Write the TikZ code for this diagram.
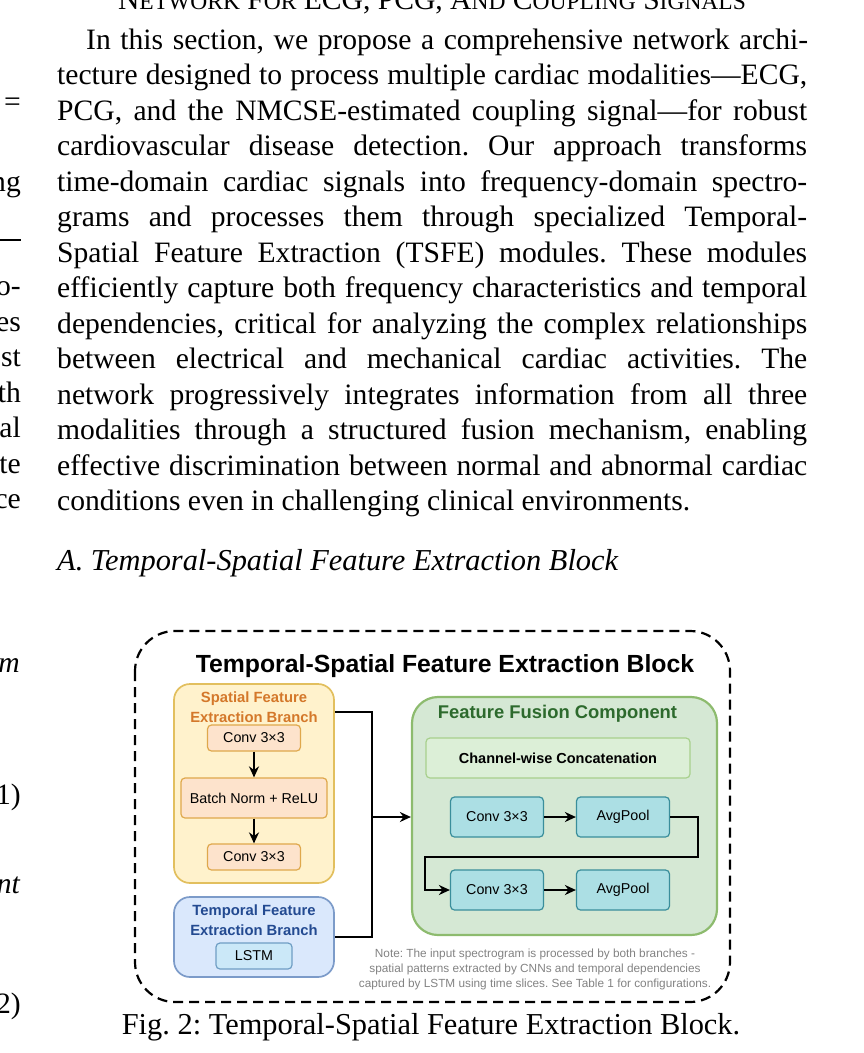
\documentclass[tikz,border=0pt]{standalone}
\usepackage{fontspec}
\setmainfont{Liberation Serif}
\setsansfont{Liberation Sans}
\usepackage{tikz}
\usetikzlibrary{arrows.meta,positioning,calc}
\usepackage{xcolor}
\definecolor{spatfill}{HTML}{FFF2CC}
\definecolor{spatline}{HTML}{E2BF5E}
\definecolor{spattext}{HTML}{D4782A}
\definecolor{peachfill}{HTML}{FDE3CC}
\definecolor{peachline}{HTML}{DFA84C}
\definecolor{tempfill}{HTML}{DAE8FC}
\definecolor{templine}{HTML}{7C9BC9}
\definecolor{temptext}{HTML}{234A91}
\definecolor{lstmfill}{HTML}{CBE8F8}
\definecolor{lstmline}{HTML}{6F9EC4}
\definecolor{fusefill}{HTML}{D5E8D4}
\definecolor{fuseline}{HTML}{8DBB6E}
\definecolor{fusetext}{HTML}{2D6A2D}
\definecolor{catfill}{HTML}{DCEFD7}
\definecolor{catline}{HTML}{A8D08D}
\definecolor{opfill}{HTML}{ACDFE4}
\definecolor{opline}{HTML}{3A8E9B}
\definecolor{notegray}{HTML}{828282}

\newcommand{\bodysize}{\fontsize{29.6}{35.5}\selectfont}
\newcommand{\smc}[1]{{\fontsize{23.5}{23.5}\selectfont #1}}
\frenchspacing

\begin{document}
\begin{tikzpicture}[x=1pt, y=-1pt,
  body/.style={font=\bodysize, inner sep=0pt, anchor=base west},
  margin/.style={font=\bodysize, inner sep=0pt, anchor=base east},
  frame/.style={line width=2.2pt, dash pattern=on 10pt off 6pt, rounded corners=40pt},
  branch/.style={line width=1.7pt, rounded corners=16pt},
  branchtitle/.style={font=\fontsize{14.8}{19.5}\selectfont\sffamily\bfseries, align=center, inner sep=0pt},
  opbox/.style={draw, line width=1.2pt, rounded corners=4pt, font=\fontsize{14.3}{17}\selectfont\sffamily, inner sep=0pt},
  conn/.style={line width=2.3pt},
  tip/.style={-{Stealth[length=11pt,width=10pt]}}]

  \useasboundingbox (0,0) rectangle (864,1053);

  % Section header (cut at the top)
  \node[font=\bodysize, inner sep=0pt, anchor=base] (secthead) at (432,9)
    {N\smc{ETWORK} F\smc{OR} ECG, PCG, A\smc{ND} C\smc{OUPLING} S\smc{IGNALS}};

  % Paragraph
  \node[body] (line1) at (86,49) {\makebox[722pt][s]{In this section, we propose a comprehensive network archi-}};
  \foreach \txt [count=\i from 2] in {
    {tecture designed to process multiple cardiac modalities—ECG,},
    {PCG, and the NMCSE-estimated coupling signal—for robust},
    {cardiovascular disease detection. Our approach transforms},
    {time-domain cardiac signals into frequency-domain spectro-},
    {grams and processes them through specialized Temporal-},
    {Spatial Feature Extraction (TSFE) modules. These modules},
    {efficiently capture both frequency characteristics and temporal},
    {dependencies, critical for analyzing the complex relationships},
    {between electrical and mechanical cardiac activities. The},
    {network progressively integrates information from all three},
    {modalities through a structured fusion mechanism, enabling},
    {effective discrimination between normal and abnormal cardiac}}
    \node[body] (line\i) at (57,{49+(\i-1)*35.5}) {\makebox[750pt][s]{\txt}};
  \node[body] (line14) at (57,510.5) {conditions even in challenging clinical environments.};

  % Subsection heading
  \node[body, font=\fontsize{30.4}{35.5}\selectfont\itshape] (subsec) at (57,570) {A. Temporal-Spatial Feature Extraction Block};

  % Left column remnants
  \node[margin] (lc1) at (21,111) {=};
  \node[margin] (lc2) at (21,191) {ng};
  \draw[line width=1.3pt] (0,240) -- (21,240);
  \foreach \frag [count=\i from 8] in {o-,es,st,th,al,te,ce}
    \node[margin] (lf\i) at (21,{49+(\i-1)*35.5-2}) {\frag};
  \node[margin, font=\bodysize\itshape] (lc3) at (20,672) {m};
  \node[margin] (lc4) at (21,804) {1)};
  \node[margin, font=\bodysize\itshape] (lc5) at (20,893) {nt};
  \node[margin] (lc6) at (21,1013) {2)};

  % Block frame and title
  \draw[frame] (135,631) rectangle (730,1002);
  \node[font=\fontsize{24.8}{28}\selectfont\sffamily\bfseries, inner sep=0pt, anchor=base] (blocktitle) at (445,672)
    {Temporal-Spatial Feature Extraction Block};

  % Spatial branch
  \node[branch, draw=spatline, fill=spatfill, minimum width=160pt, minimum height=199pt] (spatial) at (254,783.5) {};
  \node[branchtitle, text=spattext] (spatialtitle) at (254,707) {Spatial Feature\\Extraction Branch};
  \node[opbox, draw=peachline, fill=peachfill, minimum width=93pt, minimum height=26pt] (convone) at (254,738) {Conv 3×3};
  \node[opbox, draw=peachline, fill=peachfill, minimum width=146pt, minimum height=40pt] (bnrelu) at (254,798) {Batch Norm + ReLU};
  \node[opbox, draw=peachline, fill=peachfill, minimum width=93pt, minimum height=26pt] (convtwo) at (254,857) {Conv 3×3};
  \draw[conn, line width=2pt, tip] (convone) -- (bnrelu);
  \draw[conn, line width=2pt, tip] (bnrelu) -- (convtwo);

  % Temporal branch
  \node[branch, draw=templine, fill=tempfill, minimum width=160pt, minimum height=80pt] (temporal) at (254,937) {};
  \node[branchtitle, text=temptext] (temporaltitle) at (254,920) {Temporal Feature\\Extraction Branch};
  \node[opbox, draw=lstmline, fill=lstmfill, minimum width=76pt, minimum height=26pt] (lstm) at (254,956) {LSTM};

  % Fusion component
  \node[branch, rounded corners=26pt, line width=2.2pt, draw=fuseline, fill=fusefill, minimum width=305pt, minimum height=238pt] (fusion) at (564.5,816) {};
  \node[font=\fontsize{18.4}{21}\selectfont\sffamily\bfseries, text=fusetext, inner sep=0pt, anchor=base] (fusiontitle) at (557.5,718) {Feature Fusion Component};
  \node[opbox, draw=catline, fill=catfill, minimum width=264pt, minimum height=40pt, font=\fontsize{14.5}{17}\selectfont\sffamily\bfseries] (concat) at (558,758) {Channel-wise Concatenation};
  \node[opbox, draw=opline, fill=opfill, minimum width=93pt, minimum height=40pt] (convA) at (497,817) {Conv 3×3};
  \node[opbox, draw=opline, fill=opfill, minimum width=93pt, minimum height=40pt] (poolA) at (623,817) {AvgPool};
  \node[opbox, draw=opline, fill=opfill, minimum width=93pt, minimum height=40pt] (convB) at (497,890) {Conv 3×3};
  \node[opbox, draw=opline, fill=opfill, minimum width=93pt, minimum height=40pt] (poolB) at (623,890) {AvgPool};
  \draw[conn, tip] (convA) -- (poolA);
  \draw[conn, tip] (convB) -- (poolB);
  \draw[conn, tip] (poolA.east) -- ++(28,0) -- ++(0,40) -| ([xshift=-25pt]convB.west) -- (convB.west);

  % Branches into fusion
  \coordinate (join) at (372,817);
  \draw[conn] ([yshift=71.5pt]spatial.east) -| (join);
  \draw[conn] (temporal.east) -| (join);
  \draw[conn, tip] (join) -- (join -| fusion.west);

  % Note
  \node[font=\fontsize{11.8}{15}\selectfont\sffamily, text=notegray, align=center, inner sep=0pt] (note) at (535,969)
    {Note: The input spectrogram is processed by both branches -\\
     spatial patterns extracted by CNNs and temporal dependencies\\
     captured by LSTM using time slices. See Table 1 for configurations.};

  % Caption
  \node[font=\fontsize{30.4}{35.5}\selectfont, inner sep=0pt, anchor=base] (caption) at (431,1034) {Fig. 2: Temporal-Spatial Feature Extraction Block.};
\end{tikzpicture}
\end{document}
